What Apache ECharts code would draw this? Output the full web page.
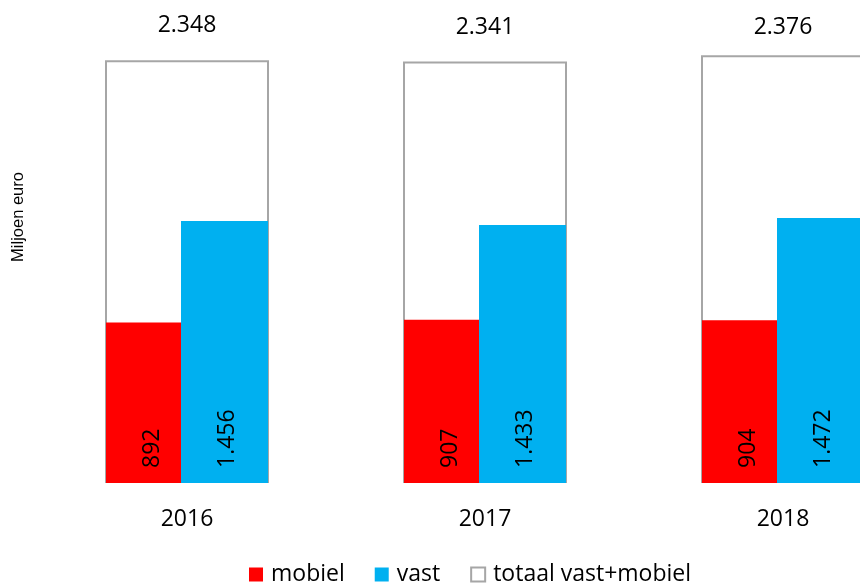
<!DOCTYPE html>
<html>
<head>
<meta charset="utf-8">
<script src="https://cdn.jsdelivr.net/npm/echarts@6/dist/echarts.min.js"></script>
<style>
  html, body { margin: 0; padding: 0; background: #fff; }
  #chart { width: 860px; height: 584px; }
</style>
</head>
<body>
<div id="chart"></div>
<script>
// Jaren en omzet in miljoen euro
const years = ['2016', '2017', '2018'];
const mobiel = [892, 907, 904];
const vast = [1456, 1433, 1472];
const totaal = [2348, 2341, 2376];

// Duizendtallen met een punt, zoals in het Nederlands
function nl(v) {
  return String(v).replace(/\B(?=(\d{3})+(?!\d))/g, '.');
}

const FONT = '"Open Sans", sans-serif';
const chart = echarts.init(document.getElementById('chart'), null, { renderer: 'canvas' });

// Verticale waardelabels onderin de staven; offset werkt in het gedraaide vlak
const insideLabel = (dx) => ({
  show: true,
  position: 'insideBottom',
  rotate: 90,
  align: 'left',
  verticalAlign: 'middle',
  distance: 15,
  offset: [0, dx],
  color: '#000',
  fontFamily: FONT,
  fontSize: 23,
  formatter: (p) => nl(p.value)
});

// Het laatste totaallabel staat iets dichter op de staaf
const totaalData = totaal.map((v, i) =>
  i === totaal.length - 1 ? { value: v, label: { distance: 16 } } : v
);

chart.setOption({
  animation: false,
  grid: {
    left: 38, top: 33, width: 894, height: 450,
    containLabel: false, outerBoundsMode: 'none'
  },
  legend: {
    left: 244,
    top: 558,
    itemWidth: 14,
    itemHeight: 14,
    itemGap: 30,
    icon: 'rect',
    textStyle: { fontFamily: FONT, fontSize: 23, color: '#000', padding: [0, 0, 0, 3] },
    data: ['mobiel', 'vast', 'totaal vast+mobiel']
  },
  graphic: [{
    type: 'text',
    x: 18,
    y: 217,
    rotation: Math.PI / 2,
    style: {
      text: 'Miljoen euro',
      fontFamily: '"Liberation Sans", Arial, sans-serif',
      fontSize: 16.5,
      fill: '#000',
      align: 'center',
      verticalAlign: 'middle'
    }
  }],
  xAxis: [
    {
      type: 'category',
      data: years,
      axisLine: { show: false },
      axisTick: { show: false },
      axisLabel: { margin: 25, color: '#000', fontFamily: FONT, fontSize: 23 }
    },
    {
      type: 'category',
      data: years,
      show: false
    }
  ],
  yAxis: { type: 'value', min: 0, max: 2500, show: false, splitLine: { show: false } },
  series: [
    {
      name: 'totaal vast+mobiel',
      type: 'bar',
      xAxisIndex: 1,
      data: totaalData,
      barWidth: 164,
      z: 1,
      itemStyle: { color: '#fff', borderColor: '#A6A6A6', borderWidth: 2 },
      label: {
        show: true,
        position: 'top',
        distance: 23,
        color: '#000',
        fontFamily: FONT,
        fontSize: 23,
        formatter: (p) => nl(p.value)
      }
    },
    {
      name: 'mobiel',
      type: 'bar',
      xAxisIndex: 0,
      data: mobiel,
      barWidth: 75,
      barGap: 0,
      z: 3,
      itemStyle: { color: '#FF0000' },
      label: insideLabel(9)
    },
    {
      name: 'vast',
      type: 'bar',
      xAxisIndex: 0,
      data: vast,
      barWidth: 87,
      barGap: 0,
      z: 3,
      itemStyle: { color: '#00B0F0' },
      label: insideLabel(3)
    }
  ]
});
</script>
</body>
</html>
